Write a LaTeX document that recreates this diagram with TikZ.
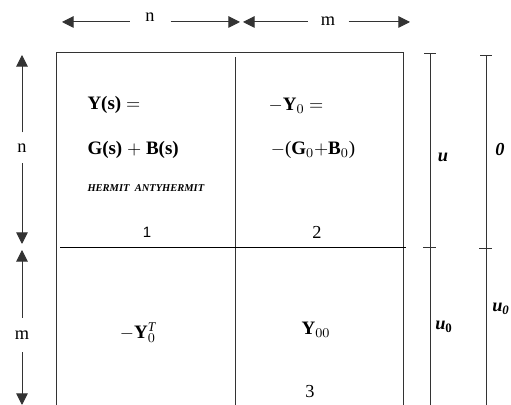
\documentclass[tikz,border=0pt]{standalone}
\usepackage{fontspec}
\setmainfont{Liberation Serif}
\setsansfont{Liberation Sans}
\usetikzlibrary{arrows.meta}
\definecolor{ink}{HTML}{333333}
\tikzset{
  dimarrow/.style={-{Triangle[length=7pt,width=7pt]},line width=.6pt,ink},
  dimlabel/.style={inner sep=0pt,font=\fontsize{11}{13}\selectfont},
  sidelabel/.style={inner sep=0pt,font=\fontsize{11}{13}\selectfont\bfseries\itshape},
  cell/.style={inner sep=0pt},
}

\begin{document}
\begin{tikzpicture}[x=.6pt,y=-.6pt,line width=.6pt,font=\fontsize{11.4}{13}\selectfont]
\useasboundingbox (0,0) rectangle (511,405);
% block matrix
\draw[ink] (56,405) -- (56,53) -- (403,53) -- (403,405);
\draw[ink] (235,57) -- (235,405);
\draw (60,248) -- (406,248);
% sizes on top
\coordinate (nleft) at (62,22);
\coordinate (nright) at (240,22);
\coordinate (mleft) at (243,22);
\coordinate (mright) at (410,22);
\node[dimlabel,minimum width=24pt] (ntop) at (150,17) {n};
\node[dimlabel,minimum width=24pt] (mtop) at (328,21) {m};
\draw[dimarrow] (ntop.west |- nleft) -- (nleft);
\draw[dimarrow] (ntop.east |- nright) -- (nright);
\draw[dimarrow] (mtop.west |- mleft) -- (mleft);
\draw[dimarrow] (mtop.east |- mright) -- (mright);
% sizes on the left
\coordinate (nup) at (22,55);
\coordinate (ndown) at (22,244);
\coordinate (mup) at (22,250);
\coordinate (mdown) at (22,405);
\node[dimlabel,minimum height=18pt] (nside) at (22,148) {n};
\node[dimlabel,minimum height=20pt] (mside) at (22,335) {m};
\draw[dimarrow] (nside.north) -- (nup);
\draw[dimarrow] (nside.south) -- (ndown);
\draw[dimarrow] (mside.north) -- (mup);
\draw[dimarrow] (mside.south) -- (mdown);
% bars on the right
\foreach \x/\t/\h in {430/54/248,486/56/249}{
  \draw[ink] (\x,\t) -- (\x,405);
  \draw[ink] (\x-6,\t) -- (\x+6,\t);
  \draw[ink] (\x-7,\h) -- (\x+6,\h);
}
\node[sidelabel] (u) at (443,157) {u};
\node[sidelabel] (zero) at (500,150) {0};
\node[sidelabel] (uzeroa) at (444,327) {u\textsubscript{\upshape 0}};
\node[sidelabel] (uzerob) at (501,309) {u\textsubscript{0}};
% cells
\node[cell,anchor=west] (ys) at (87,105) {\textbf{Y(s)} $=$};
\node[cell,anchor=west] (gb) at (87,150) {\textbf{G(s)} $+$ \textbf{B(s)}};
\node[cell,anchor=west,font=\fontsize{6.3}{8}\selectfont\bfseries\itshape] (herm) at (87,188) {HERMIT\ \ ANTYHERMIT};
\node[cell,font=\sffamily\fontsize{9}{11}\selectfont] (one) at (147,232) {1};
\node[cell] (yzero) at (296,106) {$-$\textbf{Y}$_0$ $=$};
\node[cell] (gbzero) at (313,150) {$-$(\textbf{G}$_0+$\textbf{B}$_0$)};
\node[cell,font=\fontsize{11}{13}\selectfont] (two) at (317,232) {2};
\node[cell] (yzerot) at (138,333) {$-$\textbf{Y}$_0^{\mathit{T}}$};
\node[cell] (yzz) at (316,330) {\textbf{Y}$_{00}$};
\node[cell,font=\fontsize{11}{13}\selectfont] (three) at (310,392) {3};
\end{tikzpicture}
\end{document}
